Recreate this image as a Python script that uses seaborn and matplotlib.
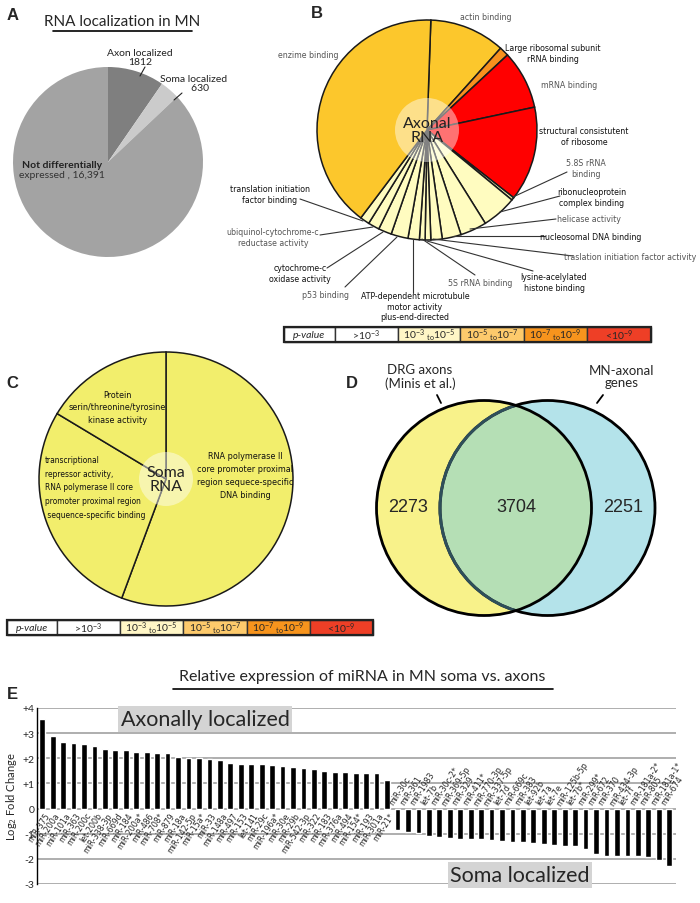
import numpy as np
import pandas as pd
import seaborn as sns
import matplotlib.pyplot as plt
from matplotlib.patches import Circle, Rectangle

sns.set_style('white')
plt.rcParams['font.family'] = ['Lato', 'DejaVu Sans']
plt.rcParams['mathtext.default'] = 'regular'
NARROW = dict(family=['DejaVu Sans'], fontstretch='condensed')

# ---- data ----------------------------------------------------------
a_labels = ['Axon localized', 'Soma localized', 'Not differentially expressed']
a_counts = [1812, 630, 16391]
a_colors = ['#7f7f7f', '#cbcbcb', '#a3a3a3']

# B : axonal GO terms, clockwise from the top (slice sizes in degrees)
b_terms = ['actin binding', 'Large ribosomal subunit\nrRNA binding', 'mRNA binding',
           'structural consistutent\nof ribosome', '5.8S rRNA\nbinding',
           'ribonucleoprotein\ncomplex binding', 'helicase activity',
           'nucleosomal DNA binding', 'traslation initiation factor activity',
           'lysine-acelylated\nhistone binding', '5S rRNA binding',
           'ATP-dependent microtubule\nmotor activity\nplus-end-directed', 'p53 binding',
           'cytochrome-c\noxidase activity', 'ubiquinol-cytochrome-c\nreductase activity',
           'translation initiation\nfactor binding', 'enzime binding']
b_sizes = [40, 5, 31, 50, 1.5, 18.5, 14, 10, 6, 3, 3, 6, 9, 7, 6, 5, 145]
b_colors = ['#fcc72c', '#f7901e', '#ff0000', '#ff0000', '#f4efb0', '#fffcc0', '#fffcc0',
            '#fffcc0', '#fffcc0', '#fffcc0', '#fffcc0', '#fffcc0', '#fffcc0', '#fffcc0',
            '#fffcc0', '#fffcc0', '#fcc72c']

# C : soma GO terms, clockwise from the top
c_terms = ['RNA polymerase II\ncore promoter proximal\nregion sequece-specific\nDNA binding',
           'transcriptional\nrepressor activity,\nRNA polymerase II core\npromoter proximal region\n sequence-specific binding',
           'Protein\nserin/threonine/tyrosine\nkinase activity']
c_sizes = [200.4, 100.6, 59]

# legend of p-values
p_labels = ['>10$^{-3}$', '10$^{-3}$ $_{to}$10$^{-5}$', '10$^{-5}$ $_{to}$10$^{-7}$',
            '10$^{-7}$ $_{to}$10$^{-9}$', '<10$^{-9}$']
p_colors = ['#ffffff', '#fff6c6', '#fdca6c', '#f7941d', '#ee3f26']

# D : venn
venn_counts = [2273, 3704, 2251]
venn_sets = ['DRG axons\n(Minis et al.)', 'MN-axonal\ngenes']

# E : miRNA
mir_up = ['miR-375', 'miR-200a', 'miR-101a', 'miR-363', 'miR-200c', 'let-200b', 'miR-338-3p',
          'miR-669d', 'miR-184', 'miR-200a*', 'miR-486', 'miR-708*', 'miR-879', 'miR-18a',
          'miR-142-5p', 'miR-15a*', 'miR-33', 'miR-148a', 'miR-497', 'miR-153', 'let-141',
          'miR-29c', 'miR-196a*', 'miR-30e', 'miR-29b', 'miR-542-3p', 'miR-322', 'miR-183',
          'miR-376a', 'miR-494', 'miR-154*', 'miR-193', 'miR-301a', 'miR-21*']
fc_up = [3.56, 2.88, 2.66, 2.6, 2.55, 2.49, 2.36, 2.33, 2.33, 2.25, 2.25, 2.21, 2.21, 2.05,
         2.01, 2.02, 1.97, 1.94, 1.83, 1.79, 1.76, 1.76, 1.75, 1.69, 1.64, 1.6, 1.57, 1.51,
         1.44, 1.44, 1.4, 1.4, 1.4, 1.15]
mir_down = ['miR-30c', 'miR-361', 'miR-1983', 'let-7b', 'miR-30c-2*', 'miR-369-5p', 'miR-329',
            'miR-411*', 'miR-770-3p', 'miR-337-5p', 'let-7d', 'miR-669c', 'miR-383', 'let-92b',
            'let-7a', 'let-7e', 'miR-125b-5p', 'let-7b*', 'miR-299*', 'miR-672', 'miR-370',
            'miR-434-3p', 'let-7f', 'miR-181a-2*', 'miR-805', 'miR-181a-1*', 'miR-674']
fc_down = [-0.86, -0.93, -0.98, -1.1, -1.15, -1.18, -1.2, -1.22, -1.23, -1.24, -1.28, -1.31,
           -1.33, -1.35, -1.42, -1.46, -1.48, -1.49, -1.6, -1.8, -1.88, -1.88, -1.88, -1.9,
           -1.92, -2.06, -2.27]

# ---- figure --------------------------------------------------------
W, H = 700, 904
fig = plt.figure(figsize=(7, 9.04), dpi=100)

# panel E bar chart
axE = fig.add_axes([37 / W, (H - 885) / H, (676 - 37) / W, 176 / H])
df = pd.DataFrame({'mirna': mir_up + mir_down, 'fc': fc_up + fc_down})
sns.barplot(data=df, x='mirna', y='fc', color='black', saturation=1, width=0.55, ax=axE)
axE.set_ylim(-3, 4)
axE.set_xlim(-0.5, len(df) - 0.35)
axE.set_yticks(range(-3, 5))
axE.set_yticklabels(['-3', '-2', '-1', '0', '+1', '+2', '+3', '+4'], fontsize=7.5)
axE.set_xticks([])
axE.set_xlabel('')
axE.set_ylabel('Log$_2$ Fold Change', fontsize=8, labelpad=2)
axE.yaxis.grid(True, color='#a8a8a8', lw=1.3)
axE.set_axisbelow(True)
axE.tick_params(axis='y', length=0, pad=2)
for s in ['top', 'right', 'bottom']:
    axE.spines[s].set_visible(False)
axE.spines['left'].set_color('black')
axE.spines['left'].set_linewidth(1)
for i, (name, v) in enumerate(zip(df['mirna'], df['fc'])):
    if v > 0:
        axE.text(i + 0.15, -0.08, name, rotation=57, rotation_mode='anchor', ha='right',
                 va='top', fontsize=6.3, **NARROW)
    else:
        axE.text(i - 0.2, 0.08, name, rotation=57, rotation_mode='anchor', ha='left',
                 va='bottom', fontsize=6.3, **NARROW)

# overlay in pixel coordinates for everything else
ov = fig.add_axes([0, 0, 1, 1])
ov.patch.set_visible(False)


def Y(y):
    return H - y


def t(x, y, s, **kw):
    kw.setdefault('ha', 'center')
    kw.setdefault('va', 'center')
    return ov.text(x, Y(y), s, **kw)


def line(pts, **kw):
    kw.setdefault('color', '#333333')
    kw.setdefault('lw', 0.8)
    xs = [p[0] for p in pts]
    ys = [Y(p[1]) for p in pts]
    ov.plot(xs, ys, **kw)


# panel letters
for letter, (x, y) in zip('ABCDE', [(13, 15), (317, 13), (12, 383), (352, 383), (12, 695)]):
    t(x, y, letter, fontsize=12, fontweight='bold', family=['Liberation Sans', 'DejaVu Sans'])

# ---- A ----
t(122, 22, 'RNA localization in MN', fontsize=11)
line([(53, 32), (192, 32)], color='black', lw=1.2)
ov.pie(a_counts, colors=a_colors, startangle=90, counterclock=False, center=(108, Y(163)),
       radius=95, wedgeprops=dict(linewidth=0), frame=True)
t(140, 58, 'Axon localized\n1812', fontsize=7.5, linespacing=1.1, color='#222222')
line([(145, 68), (140, 77)], color='#222222')
t(194, 84, 'Soma localized\n     630', fontsize=7.5, linespacing=1.1, color='#222222')
line([(182, 94), (174, 101)], color='#222222')
t(62, 165, 'Not differentially', fontsize=7.5, color='#222222', fontweight='bold')
t(62, 176, 'expressed , 16,391', fontsize=7.5, color='#333333')

# ---- B ----
ov.pie(b_sizes, colors=b_colors, startangle=88, counterclock=False, center=(427, Y(131)),
       radius=110, wedgeprops=dict(edgecolor='#1a1a1a', linewidth=1.1), frame=True)
ov.add_patch(Circle((427, Y(131)), 32, fc='white', alpha=0.45, ec='none'))
t(427, 131, 'Axonal\nRNA', fontsize=11.5, linespacing=1.0, color='#222222')

gray = '#555555'
blab = [  # text, x, y, colour, leader
    ('actin binding', 486, 18, gray, None),
    ('enzime binding', 308, 56, gray, None),
    ('Large ribosomal subunit\nrRNA binding', 553, 54, '#111111', None),
    ('mRNA binding', 569, 86, gray, None),
    ('structural consistutent\nof ribosome', 584, 137, '#111111', None),
    ('5.8S rRNA\nbinding', 586, 169, gray, [(567, 173), (513, 198)]),
    ('ribonucleoprotein\ncomplex binding', 592, 198, '#111111', [(560, 197), (500, 213)]),
    ('helicase activity', 589, 220, gray, [(556, 220), (470, 230)]),
    ('nucleosomal DNA binding', 591, 237, '#111111', [(545, 237), (453, 237)]),
    ('traslation initiation factor activity', 630, 258, gray, [(573, 257), (433, 240)]),
    ('lysine-acelylated\nhistone binding', 554, 283, '#111111', [(533, 272), (427, 242)]),
    ('5S rRNA binding', 480, 283, gray, [(475, 276), (422, 240)]),
    ('ATP-dependent microtubule\nmotor activity\nplus-end-directed', 415, 307, '#111111',
     [(413, 294), (413, 240)]),
    ('p53 binding', 326, 295, gray, [(345, 288), (397, 238)]),
    ('cytochrome-c\noxidase activity', 300, 274, '#111111', [(327, 269), (383, 233)]),
    ('ubiquinol-cytochrome-c\nreductase activity', 273, 238, gray, [(320, 236), (373, 228)]),
    ('translation initiation\nfactor binding', 270, 195, '#111111', [(300, 200), (363, 222)]),
]
for s, x, y, col, ld in blab:
    t(x, y, s, fontsize=6.3, color=col, linespacing=1.25, **NARROW)
    if ld:
        line(ld)


def pvalue_bar(edges, y0, y1):
    ov.add_patch(Rectangle((edges[0], Y(y1)), edges[1] - edges[0], y1 - y0, fc='white',
                           ec='#333333', lw=1))
    t((edges[0] + edges[1]) / 2, (y0 + y1) / 2, 'p-value', fontsize=7.5, style='italic')
    for k, (lab, col) in enumerate(zip(p_labels, p_colors)):
        xa, xb = edges[k + 1], edges[k + 2]
        ov.add_patch(Rectangle((xa, Y(y1)), xb - xa, y1 - y0, fc=col, ec='#333333', lw=1))
        t((xa + xb) / 2, (y0 + y1) / 2 + 0.5, lab, fontsize=7.5)
    ov.add_patch(Rectangle((edges[0], Y(y1)), edges[-1] - edges[0], y1 - y0, fc='none',
                           ec='#222222', lw=1.6))


pvalue_bar([284, 335, 398, 460, 524, 587, 651], 328, 343)

# ---- C ----
ov.pie(c_sizes, colors=['#f2ee6c'] * 3, startangle=90, counterclock=False,
       center=(166, Y(480)), radius=127, wedgeprops=dict(edgecolor='#1a1a1a', linewidth=1.1),
       frame=True)
ov.add_patch(Circle((166, Y(480)), 27, fc='white', alpha=0.45, ec='none'))
t(166, 480, 'Soma\nRNA', fontsize=11.5, linespacing=1.0, color='#222222')
t(245, 476, c_terms[0], fontsize=6.5, linespacing=1.55, color='#111111', **NARROW)
t(45, 488, c_terms[1], fontsize=6.0, linespacing=1.65, ha='left', color='#111111', **NARROW)
t(117, 408, c_terms[2], fontsize=6.5, linespacing=1.55, color='#111111', **NARROW)
pvalue_bar([7, 57, 120, 183, 247, 310, 373], 621, 636)

# ---- D ----
lc, rc_, rr = (484, Y(509)), (547.5, Y(509)), 107.5
ov.add_patch(Circle(lc, rr, fc='#f8f28a', ec='none'))
ov.add_patch(Circle(rc_, rr, fc='#b4e3ea', ec='none'))
clipc = Circle(lc, rr, transform=ov.transData)
lens = Circle(rc_, rr, fc='#b5dfb5', ec='none')
ov.add_patch(lens)
lens.set_clip_path(clipc)
ov.add_patch(Circle(lc, rr, fc='none', ec='black', lw=2))
ov.add_patch(Circle(rc_, rr, fc='none', ec='black', lw=2))
inner = Circle(rc_, rr, fc='none', ec='#2f4f5a', lw=2.2)
ov.add_patch(inner)
inner.set_clip_path(Circle(lc, rr - 1.5, transform=ov.transData))
for x, n in zip([408, 516, 623], venn_counts):
    t(x, 508, str(n), fontsize=13, family=['Liberation Sans', 'DejaVu Sans'])
t(420, 377, venn_sets[0], fontsize=9.5, linespacing=1.05)
t(622, 377, venn_sets[1], fontsize=9.5, linespacing=1.05)
line([(437, 396), (441, 404)], color='black', lw=1.3)
line([(603, 396), (597, 404)], color='black', lw=1.3)

# ---- E annotations ----
t(362, 677, 'Relative expression of miRNA in MN soma vs. axons', fontsize=11.5)
line([(173, 690), (553, 690)], color='black', lw=1.2)
t(205, 720, 'Axonally localized', fontsize=15.5,
  bbox=dict(boxstyle='square,pad=0.12', fc='#d4d4d4', ec='none'))
t(520, 876, 'Soma localized', fontsize=15.5,
  bbox=dict(boxstyle='square,pad=0.12', fc='#d4d4d4', ec='none'))

ov.set_xlim(0, W)
ov.set_ylim(0, H)
ov.set_aspect('auto')
ov.axis('off')

fig.savefig('out.png', dpi=100)
